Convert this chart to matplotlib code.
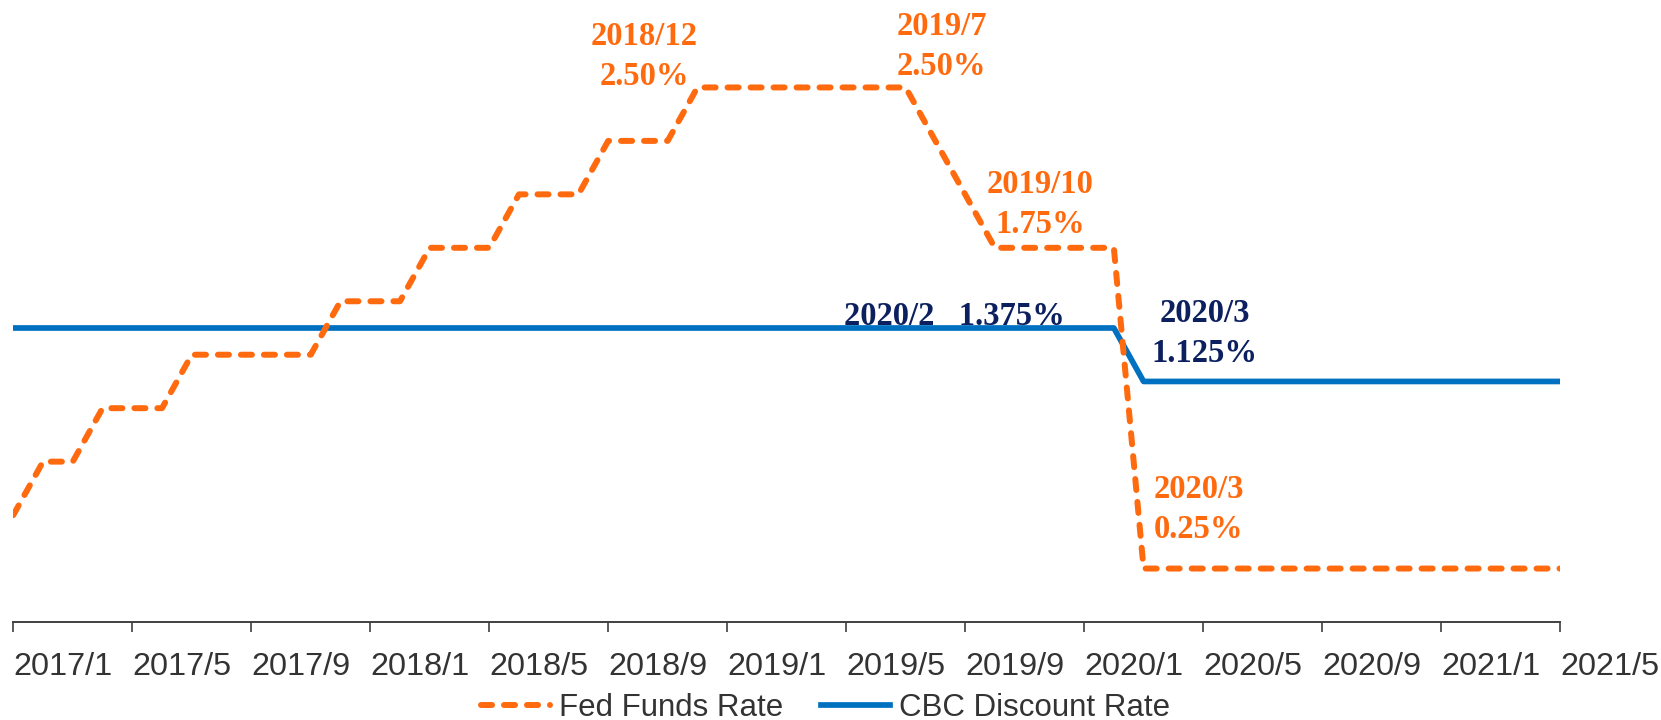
import matplotlib.pyplot as plt
import numpy as np
import pandas as pd

# monthly data, 2017/1 - 2021/5
months = pd.date_range("2017-01-01", "2021-05-01", freq="MS")

fed_rate = [0.50, 0.75, 0.75, 1.00, 1.00, 1.00, 1.25, 1.25, 1.25, 1.25,
            1.25, 1.50, 1.50, 1.50, 1.75, 1.75, 1.75, 2.00, 2.00, 2.00,
            2.25, 2.25, 2.25, 2.50, 2.50, 2.50, 2.50, 2.50, 2.50, 2.50,
            2.50, 2.25, 2.00, 1.75, 1.75, 1.75, 1.75, 1.75, 0.25, 0.25,
            0.25, 0.25, 0.25, 0.25, 0.25, 0.25, 0.25, 0.25, 0.25, 0.25,
            0.25, 0.25, 0.25]

cbc_rate = [1.375] * 38 + [1.125] * 15

# (point index, series, label, offset px, ha)
notes = [
    (23, "fed", "2018/12\n2.50%", (-53, 31), "center"),
    (30, "fed", "2019/7\n2.50%", (-9, 41), "left"),
    (33, "fed", "2019/10\n1.75%", (45, 43), "center"),
    (37, "cbc", "2020/2   1.375%", (-159, 11), "center"),
    (38, "cbc", "2020/3\n1.125%", (61, 48), "center"),
    (38, "fed", "2020/3\n0.25%", (10, 59), "left"),
]

ORANGE = "#FF6A0E"
BLUE = "#0070C0"
NAVY = "#0C2060"

x = np.arange(len(months))

fig = plt.figure(figsize=(16.61, 7.2), dpi=100)
ax = fig.add_axes([0.0080, 0.1361, 0.9312, 0.8167])

ax.plot(x, fed_rate, color=ORANGE, lw=4.3, linestyle=(0, (1.85, 2.0)),
        dash_capstyle="round", label="Fed Funds Rate", zorder=3)
ax.plot(x, cbc_rate, color=BLUE, lw=4.1, label="CBC Discount Rate", zorder=2)

for i, series, text, off, ha in notes:
    yv = fed_rate[i] if series == "fed" else cbc_rate[i]
    col = ORANGE if series == "fed" else NAVY
    ax.annotate(text, xy=(x[i], yv), xytext=off, textcoords="offset pixels",
                ha=ha, va="center", color=col, fontsize=23.5, fontweight="bold",
                family="Liberation Serif", linespacing=1.38)

ax.set_xlim(0, len(months) - 1)
ax.set_ylim(0, 2.75)

tick_idx = x[::4]
ax.set_xticks(tick_idx)
ax.set_xticklabels([f"{months[i].year}/{months[i].month}" for i in tick_idx],
                   ha="left", fontsize=23.3, family="Liberation Sans",
                   color="#333333")
ax.tick_params(axis="x", length=7.5, width=1.2, color="#404040", pad=14)
ax.set_yticks([])

for s in ["top", "right", "left"]:
    ax.spines[s].set_visible(False)
ax.spines["bottom"].set_color("#404040")
ax.spines["bottom"].set_linewidth(1.4)

leg = fig.legend(loc="center", bbox_to_anchor=(0.497, 0.0165), ncol=2,
                 frameon=False, handlelength=2.2, handletextpad=0.3,
                 columnspacing=1.2,
                 prop={"family": "Liberation Sans", "size": 22.5})
for t in leg.get_texts():
    t.set_color("#333333")

fig.savefig("out.png", dpi=100)
